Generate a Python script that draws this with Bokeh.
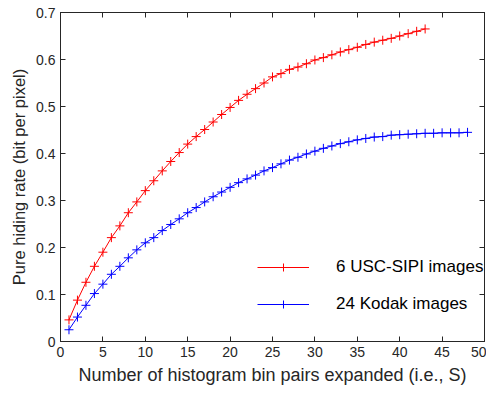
from bokeh.plotting import figure
from bokeh.models import LinearAxis, Legend, LegendItem, ColumnDataSource, Range1d, FixedTicker
from bokeh.embed import file_html
from bokeh.resources import INLINE

# Data
s_sipi = list(range(1, 44))
rate_sipi = [0.046, 0.088, 0.126, 0.160, 0.190, 0.221, 0.246, 0.274, 0.297, 0.321,
             0.342, 0.363, 0.383, 0.402, 0.420, 0.436, 0.451, 0.467, 0.483, 0.498,
             0.513, 0.526, 0.538, 0.550, 0.563, 0.570, 0.579, 0.584, 0.591, 0.599,
             0.604, 0.610, 0.616, 0.621, 0.626, 0.632, 0.637, 0.641, 0.645, 0.650,
             0.655, 0.660, 0.665]
s_kodak = list(range(1, 49))
rate_kodak = [0.025, 0.052, 0.077, 0.102, 0.122, 0.143, 0.160, 0.178, 0.195, 0.210,
              0.221, 0.236, 0.249, 0.261, 0.274, 0.285, 0.297, 0.308, 0.318, 0.328,
              0.338, 0.346, 0.354, 0.363, 0.370, 0.378, 0.386, 0.392, 0.399, 0.405,
              0.411, 0.416, 0.421, 0.425, 0.429, 0.432, 0.435, 0.436, 0.439, 0.440,
              0.441, 0.442, 0.443, 0.443, 0.444, 0.444, 0.444, 0.445]
x_ticks = [0, 5, 10, 15, 20, 25, 30, 35, 40, 45, 50]
y_ticks = [0, 0.1, 0.2, 0.3, 0.4, 0.5, 0.6, 0.7]
label_sipi = "6 USC-SIPI images"
label_kodak = "24 Kodak images"
x_title = "Number of histogram bin pairs expanded (i.e., S)"
y_title = "Pure hiding rate (bit per pixel)"

FONT = "Liberation Sans"
AXC = "#262626"

p = figure(width=486, height=387, output_backend="svg", toolbar_location=None,
           x_range=Range1d(0, 50), y_range=Range1d(0, 0.7),
           x_axis_label=x_title, y_axis_label=y_title,
           min_border_left=60, min_border_top=12, min_border_right=2, min_border_bottom=10)
p.grid.visible = False
p.outline_line_color = AXC
p.outline_line_width = 1

for ax in (p.xaxis[0], p.yaxis[0]):
    ax.axis_line_color = AXC
    ax.major_tick_line_color = AXC
    ax.minor_tick_line_color = None
    ax.major_tick_in = 5
    ax.major_tick_out = 0
    ax.major_label_text_font = FONT
    ax.major_label_text_font_size = "14px"
    ax.major_label_text_color = AXC
    ax.axis_label_text_font = FONT
    ax.axis_label_text_font_style = "normal"
    ax.axis_label_text_color = AXC
    ax.major_label_standoff = 5
    ax.axis_label_standoff = 5

p.xaxis[0].axis_label_text_font_size = "18px"
p.yaxis[0].axis_label_text_font_size = "16.5px"
p.xaxis[0].ticker = FixedTicker(ticks=x_ticks)
p.yaxis[0].ticker = FixedTicker(ticks=y_ticks)
p.yaxis[0].major_label_overrides = {t: ("0" if t == 0 else f"{t:.1f}") for t in y_ticks}

for loc, ticks in (("above", x_ticks), ("right", y_ticks)):
    ax = LinearAxis(ticker=FixedTicker(ticks=ticks))
    ax.axis_line_color = AXC
    ax.major_tick_line_color = AXC
    ax.minor_tick_line_color = None
    ax.major_tick_in = 5
    ax.major_tick_out = 0
    ax.major_label_text_color = None
    ax.major_label_text_font_size = "1px"
    ax.major_label_standoff = 0
    p.add_layout(ax, loc)

src_s = ColumnDataSource(dict(x=s_sipi, y=rate_sipi))
src_k = ColumnDataSource(dict(x=s_kodak, y=rate_kodak))

r_line = p.line("x", "y", source=src_s, line_color="#ff0000", line_width=1)
r_mark = p.scatter("x", "y", source=src_s, marker="cross", size=9, line_color="#ff0000", line_width=1)
b_line = p.line("x", "y", source=src_k, line_color="#0000ff", line_width=1)
b_mark = p.scatter("x", "y", source=src_k, marker="cross", size=9, line_color="#0000ff", line_width=1)

legend = Legend(items=[LegendItem(label=label_sipi, renderers=[r_line, r_mark]),
                       LegendItem(label=label_kodak, renderers=[b_line, b_mark])],
                location=(197, 27), orientation="vertical",
                glyph_width=52, glyph_height=20, label_height=20,
                label_standoff=27, spacing=17, padding=0, margin=0,
                border_line_color=None, background_fill_alpha=0,
                label_text_font=FONT, label_text_font_size="17px", label_text_color="#000000")
p.add_layout(legend, "center")

open("out.html", "w").write(file_html(p, INLINE))
